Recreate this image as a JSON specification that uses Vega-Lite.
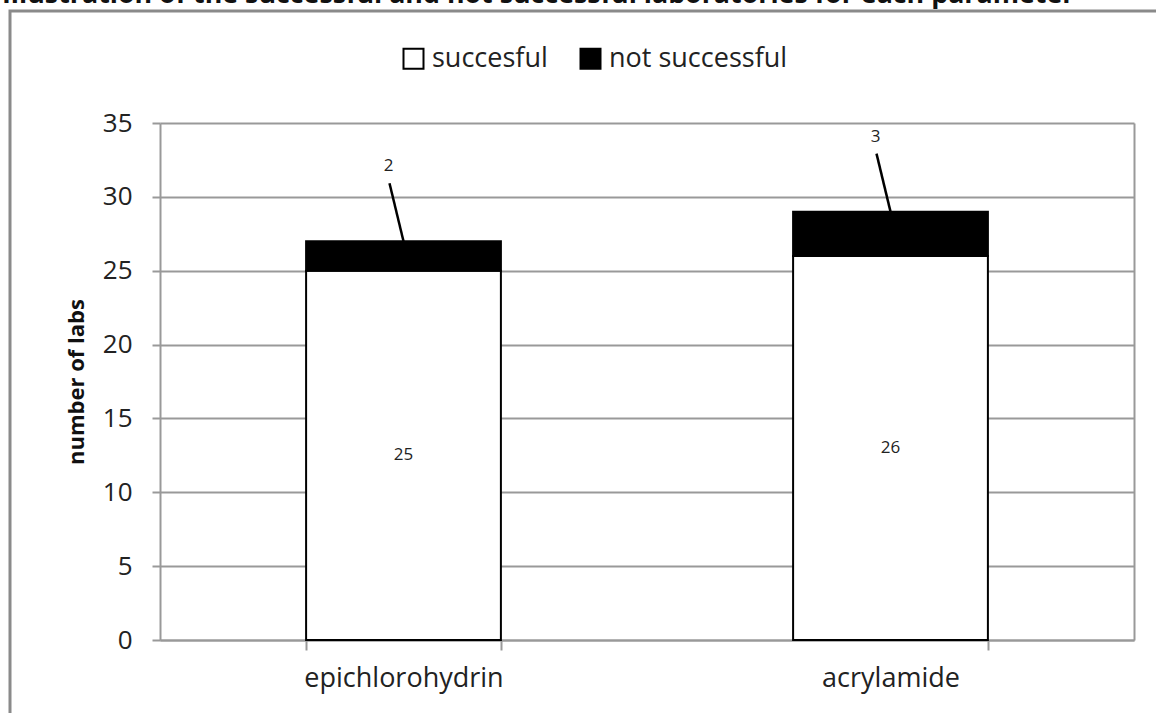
{
  "$schema": "https://vega.github.io/schema/vega-lite/v6.json",
  "autosize": "none",
  "width": 1170,
  "height": 721,
  "padding": {"left": 10, "top": 11, "right": -24, "bottom": -19},
  "background": "white",
  "title": {
    "text": "Illustration of the successful and not successful laboratories for each parameter",
    "anchor": "start",
    "frame": "group",
    "orient": "top",
    "baseline": "alphabetic",
    "offset": 0,
    "dx": -8,
    "dy": 19,
    "font": "Open Sans",
    "fontSize": 26.8,
    "fontWeight": "bold",
    "color": "#111"
  },
  "config": {
    "view": {"stroke": "#8a8a8a", "strokeWidth": 3, "fill": "white"},
    "font": "Open Sans"
  },
  "data": {
    "values": [
      {"parameter": "epichlorohydrin", "status": "succesful", "count": 25},
      {"parameter": "epichlorohydrin", "status": "not successful", "count": 2},
      {"parameter": "acrylamide", "status": "succesful", "count": 26},
      {"parameter": "acrylamide", "status": "not successful", "count": 3}
    ]
  },
  "transform": [
    {
      "stack": "count",
      "groupby": ["parameter"],
      "sort": [{"field": "status", "order": "descending"}],
      "as": ["lo", "hi"]
    }
  ],
  "encoding": {
    "x": {
      "field": "parameter",
      "type": "nominal",
      "sort": ["epichlorohydrin", "acrylamide"],
      "scale": {"range": [150, 1124], "paddingInner": 0.6, "paddingOuter": 0.3},
      "axis": {
        "orient": "bottom",
        "offset": -92,
        "title": null,
        "labelAngle": 0,
        "labelFontSize": 27,
        "labelColor": "#222",
        "labelPadding": 15,
        "labelLimit": 0,
        "tickBand": "extent",
        "tickSize": 10,
        "tickWidth": 2,
        "tickColor": "#999",
        "domainColor": "#999",
        "domainWidth": 2,
        "grid": false
      }
    }
  },
  "layer": [
    {
      "mark": {"type": "bar", "stroke": "black", "strokeWidth": 2},
      "encoding": {
        "y": {
          "field": "hi",
          "type": "quantitative",
          "scale": {"domain": [0, 35], "range": [629, 112], "nice": false},
          "axis": {
            "orient": "left",
            "offset": -150,
            "values": [0, 5, 10, 15, 20, 25, 30, 35],
            "title": "number of labs",
            "titleFontSize": 22,
            "titleFontWeight": "bold",
            "titleColor": "#111",
            "titlePadding": 14,
            "labelFontSize": 26,
            "labelColor": "#222",
            "labelPadding": 20,
            "tickSize": 8,
            "tickWidth": 2,
            "tickColor": "#999",
            "domainColor": "#999",
            "domainWidth": 2,
            "grid": true,
            "gridColor": "#999",
            "gridWidth": 2
          }
        },
        "y2": {"field": "lo"},
        "color": {
          "field": "status",
          "type": "nominal",
          "scale": {"domain": ["succesful", "not successful"], "range": ["white", "black"]},
          "legend": {
            "title": null,
            "orient": "none",
            "legendX": 390,
            "legendY": 34,
            "direction": "horizontal",
            "symbolType": "square",
            "symbolSize": 400,
            "symbolStrokeColor": "black",
            "symbolStrokeWidth": 2,
            "labelFontSize": 27,
            "labelColor": "#222",
            "labelOffset": 5,
            "labelLimit": 0,
            "columnPadding": 28
          }
        }
      }
    },
    {
      "mark": {"type": "rule", "color": "#999", "strokeWidth": 2},
      "encoding": {
        "y": {
          "field": "hi",
          "type": "quantitative",
          "axis": {
            "orient": "right",
            "offset": -46,
            "labels": false,
            "ticks": false,
            "grid": false,
            "title": null,
            "domainColor": "#999",
            "domainWidth": 2
          }
        },
        "y2": {"field": "hi"},
        "opacity": {"value": 0}
      }
    },
    {
      "transform": [
        {"filter": "datum.status === 'succesful'"},
        {"fold": ["lo", "hi"]}
      ],
      "mark": {"type": "text", "fontSize": 17, "color": "#222"},
      "encoding": {
        "y": {"aggregate": "mean", "field": "value", "type": "quantitative", "axis": null},
        "text": {"aggregate": "max", "field": "count", "type": "quantitative"}
      }
    },
    {
      "transform": [{"filter": "datum.status === 'not successful'"}],
      "mark": {"type": "rule", "color": "black", "strokeWidth": 2.5, "xOffset": -14, "yOffset": -58, "x2Offset": 0, "y2Offset": 0},
      "encoding": {
        "x2": {"field": "parameter"},
        "y": {"field": "hi", "type": "quantitative", "axis": null},
        "y2": {"field": "hi"}
      }
    },
    {
      "transform": [{"filter": "datum.status === 'not successful'"}],
      "mark": {"type": "text", "fontSize": 17, "color": "#222", "dx": -15, "dy": -75},
      "encoding": {
        "y": {"field": "hi", "type": "quantitative", "axis": null},
        "text": {"field": "count", "type": "quantitative"}
      }
    }
  ]
}
